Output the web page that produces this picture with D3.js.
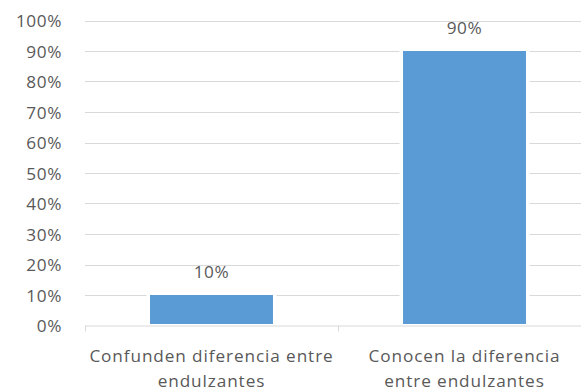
<!DOCTYPE html>
<html>
<head>
<meta charset="utf-8">
<script src="https://cdn.jsdelivr.net/npm/d3@7"></script>
<style>
  html, body { margin: 0; padding: 0; background: #fff; }
  svg { display: block; }
  text { font-family: "Open Sans", "DejaVu Sans", sans-serif; fill: #595959; }
</style>
</head>
<body>
<svg id="chart" width="581" height="392"></svg>
<script>
// Survey result: share of respondents by knowledge of sweeteners
const categories = [
  ["Confunden diferencia entre", "endulzantes"],
  ["Conocen la diferencia", "entre endulzantes"]
];
const values = [10, 90];
const yTicks = [0, 10, 20, 30, 40, 50, 60, 70, 80, 90, 100];

const svg = d3.select("#chart");
const plotLeft = 85, plotRight = 591, plotTop = 20.5, plotBottom = 325.5;
const fontSize = 17.2;

const keys = categories.map((c, i) => i);
const x = d3.scaleBand().domain(keys).range([plotLeft, plotRight])
  .paddingInner(0.514).paddingOuter(0.257);
const xBand = d3.scaleBand().domain(keys).range([plotLeft, plotRight]).padding(0);
const y = d3.scaleLinear().domain([0, 100]).range([plotBottom, plotTop]);

// horizontal gridlines
svg.append("g").selectAll("line").data(yTicks.filter(t => t > 0)).join("line")
  .attr("x1", plotLeft).attr("x2", plotRight)
  .attr("y1", d => Math.round(y(d)) + 0.5).attr("y2", d => Math.round(y(d)) + 0.5)
  .attr("stroke", "#d9d9d9").attr("stroke-width", 1);

// y tick labels
svg.append("g").selectAll("text").data(yTicks).join("text")
  .attr("x", 62).attr("y", d => y(d))
  .attr("dy", "0.38em")
  .attr("text-anchor", "end")
  .style("font-size", fontSize + "px")
  .style("letter-spacing", "0.6px")
  .text(d => d + "%");

// white halo around bars, breaking the gridlines
const pad = 3.5;
svg.append("g").selectAll("rect").data(values).join("rect")
  .attr("x", (d, i) => x(i) - pad)
  .attr("width", x.bandwidth() + 2 * pad)
  .attr("y", d => y(d) - pad)
  .attr("height", d => plotBottom - y(d) + pad)
  .attr("fill", "#fff");

// bars
svg.append("g").selectAll("rect").data(values).join("rect")
  .attr("x", (d, i) => x(i))
  .attr("width", x.bandwidth())
  .attr("y", d => y(d))
  .attr("height", d => plotBottom - 1.5 - y(d))
  .attr("fill", "#5b9bd5");

// category axis line and tick marks
svg.append("line")
  .attr("x1", plotLeft).attr("x2", plotRight)
  .attr("y1", plotBottom + 0.5).attr("y2", plotBottom + 0.5)
  .attr("stroke", "#d9d9d9");
const bounds = keys.map(i => xBand(i)).concat([plotRight]);
svg.append("g").selectAll("line").data(bounds).join("line")
  .attr("x1", d => Math.round(d) + 0.5).attr("x2", d => Math.round(d) + 0.5)
  .attr("y1", plotBottom).attr("y2", plotBottom + 6)
  .attr("stroke", "#d9d9d9");

// value labels
svg.append("g").selectAll("text").data(values).join("text")
  .attr("x", (d, i) => x(i) + x.bandwidth() / 2)
  .attr("y", d => y(d) - 17.5)
  .attr("text-anchor", "middle")
  .style("font-size", fontSize + "px")
  .style("letter-spacing", "0.6px")
  .text(d => d + "%");

// category labels (two lines each)
const cat = svg.append("g").selectAll("text").data(categories).join("text")
  .attr("text-anchor", "middle")
  .style("font-size", fontSize + "px")
  .style("letter-spacing", "0.9px");
cat.selectAll("tspan").data((d, i) => d.map(line => ({ line, i }))).join("tspan")
  .attr("x", d => xBand(d.i) + xBand.bandwidth() / 2)
  .attr("y", (d, j) => 362 + j * 25)
  .text(d => d.line);
</script>
</body>
</html>
